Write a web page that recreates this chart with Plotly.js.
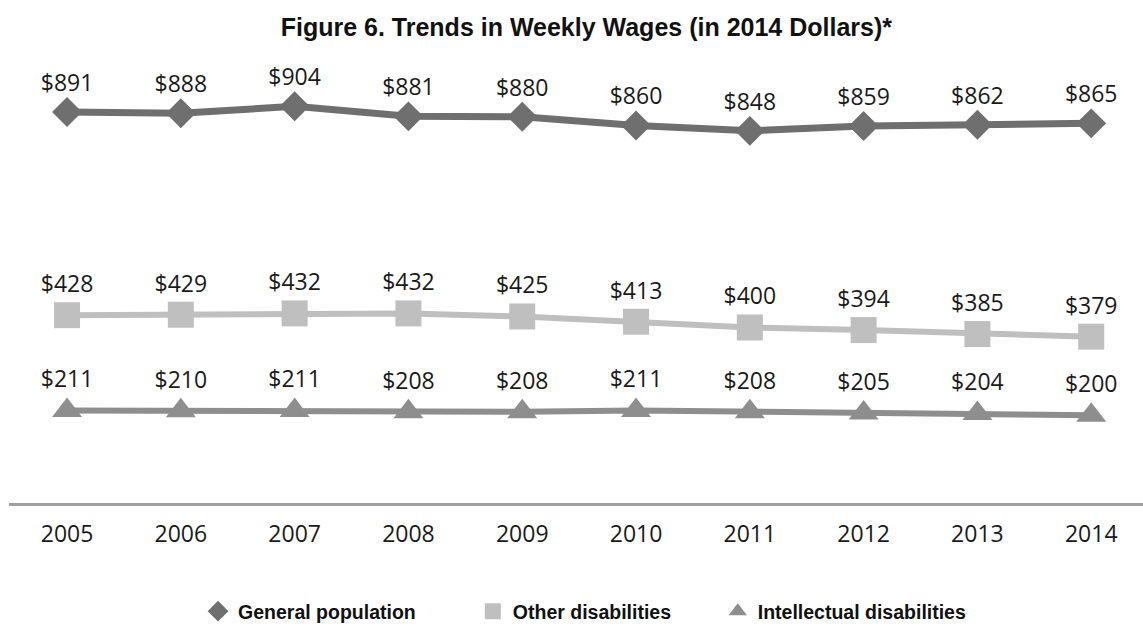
<!DOCTYPE html>
<html>
<head>
<meta charset="utf-8">
<script src="https://cdn.plot.ly/plotly-3.0.1.min.js"></script>
<style>html,body{margin:0;padding:0;background:#fff;}#chart{width:1143px;height:631px;}</style>
</head>
<body>
<div id="chart"></div>
<script>
const years = [2005, 2006, 2007, 2008, 2009, 2010, 2011, 2012, 2013, 2014];
const generalPopulation = [891, 888, 904, 881, 880, 860, 848, 859, 862, 865];
const otherDisabilities = [428, 429, 432, 432, 425, 413, 400, 394, 385, 379];
const intellectualDisabilities = [211, 210, 211, 208, 208, 211, 208, 205, 204, 200];
const seriesNames = ['General population', 'Other disabilities', 'Intellectual disabilities'];

const labelFont = {family: 'Open Sans, sans-serif', size: 23, color: '#1a1a1a'};
const legendFont = {family: 'Liberation Sans, Arial, sans-serif', size: 19.5, color: '#111', weight: 'bold'};

function series(y, name, color, symbol, size, width) {
  return {
    x: years, y: y, name: name, type: 'scatter', mode: 'lines+markers+text',
    line: {color: color, width: width},
    marker: {color: color, symbol: symbol, size: size},
    texttemplate: '$%{y}', textposition: 'top center', textfont: labelFont,
    showlegend: false, hoverinfo: 'x+y'
  };
}
function legendItem(name, color, symbol, legendId) {
  return {
    x: [null], y: [null], name: name, type: 'scatter', mode: 'markers',
    marker: {color: color, symbol: symbol, size: 22},
    showlegend: true, legend: legendId
  };
}

const data = [
  series(generalPopulation, seriesNames[0], '#6f6f6f', 'diamond', 23, 7),
  series(otherDisabilities, seriesNames[1], '#bfbfbf', 'square', 26, 6),
  series(intellectualDisabilities, seriesNames[2], '#8e8e8e', 'triangle-up', 26, 6),
  legendItem(seriesNames[0], '#6f6f6f', 'diamond', 'legend'),
  legendItem(seriesNames[1], '#bfbfbf', 'square', 'legend2'),
  legendItem(seriesNames[2], '#8e8e8e', 'triangle-up', 'legend3')
];

function legendCfg(x) {
  return {x: x, xanchor: 'left', y: -0.246, yanchor: 'middle', orientation: 'h',
    font: legendFont, bgcolor: 'rgba(0,0,0,0)', itemclick: false, itemdoubleclick: false};
}

const layout = {
  width: 1143, height: 631,
  margin: {l: 9, r: 0, t: 60, b: 120},
  paper_bgcolor: '#fff', plot_bgcolor: '#fff',
  title: {
    text: '<b>Figure 6. Trends in Weekly Wages (in 2014 Dollars)*</b>',
    font: {family: 'Liberation Sans, Arial, sans-serif', size: 25, color: '#111'},
    x: 0.513, xanchor: 'center', y: 1 - 27 / 631, yanchor: 'middle', yref: 'container'
  },
  xaxis: {
    range: [2004.49, 2014.455], tickvals: years, ticktext: years.map(String),
    showgrid: false, zeroline: false, showline: true, linecolor: '#a0a0a0', linewidth: 3,
    ticks: '', ticklabelstandoff: 8,
    tickfont: {family: 'Open Sans, sans-serif', size: 23, color: '#1a1a1a'}, fixedrange: true
  },
  yaxis: {
    range: [0, 1009.4], showgrid: false, zeroline: false, showline: false,
    showticklabels: false, ticks: '', fixedrange: true
  },
  legend: legendCfg(0.1667),
  legend2: legendCfg(0.409),
  legend3: legendCfg(0.625),
  showlegend: true
};

Plotly.newPlot('chart', data, layout, {displayModeBar: false, staticPlot: true});
</script>
</body>
</html>
